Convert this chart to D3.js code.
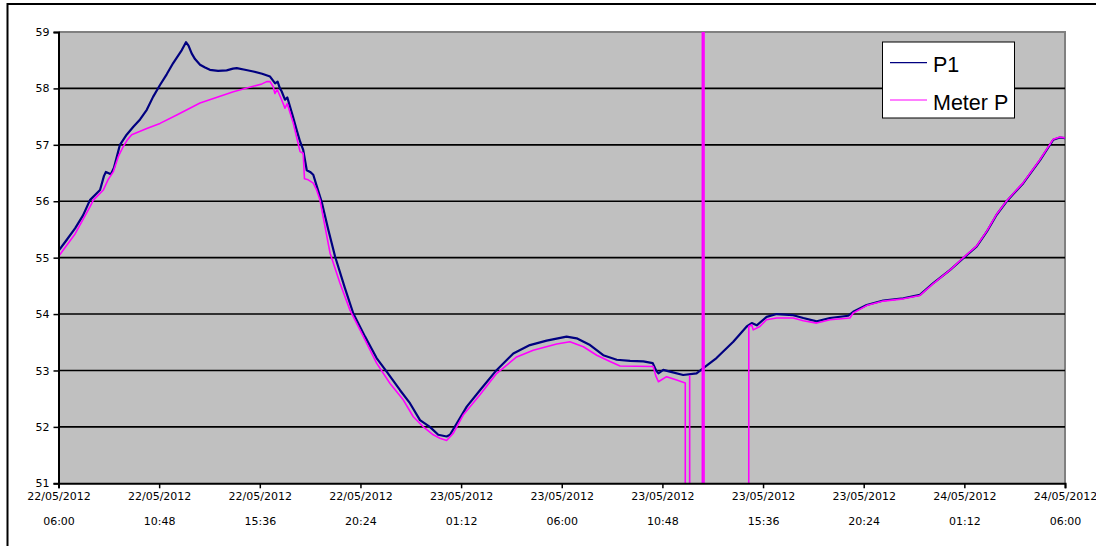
<!DOCTYPE html>
<html>
<head>
<meta charset="utf-8">
<script src="https://cdn.jsdelivr.net/npm/d3@7"></script>
<style>
  html, body { margin: 0; padding: 0; background: #ffffff; }
  svg { display: block; }
</style>
</head>
<body>
<svg id="chart" width="1096" height="546"></svg>
<script>
// ---------- data (hours after 22/05/2012 06:00, value) ----------
const startTime = Date.UTC(2012, 4, 22, 6, 0);
const endTime = Date.UTC(2012, 4, 24, 6, 0);

const seriesNames = ["P1", "Meter P"];

const p1Hours = [0, 0.36, 0.79, 1.17, 1.50, 1.98, 2.17, 2.26, 2.50, 2.65, 2.79, 2.93, 3.25, 3.57, 3.89, 4.21, 4.51, 4.84, 5.16, 5.47, 5.88, 6.08, 6.20, 6.35, 6.51, 6.75, 6.99, 7.22, 7.61, 8.02, 8.32, 8.50, 8.89, 9.29, 9.71, 10.09, 10.33, 10.45, 10.56, 10.64, 10.80, 10.91, 11.04, 11.18, 11.36, 11.52, 11.67, 11.84, 12.00, 12.15, 12.33, 12.55, 12.87, 13.19, 13.66, 14.06, 14.62, 15.17, 15.65, 16.29, 16.76, 17.24, 17.71, 18.11, 18.51, 18.67, 18.99, 19.47, 20.10, 20.90, 21.69, 22.48, 23.28, 24.23, 24.71, 25.35, 25.98, 26.62, 27.26, 27.89, 28.34, 28.50, 28.61, 28.84, 29.16, 29.79, 30.43, 30.75, 31.38, 32.18, 32.82, 33.06, 33.30, 33.77, 34.25, 35.04, 35.52, 36.16, 36.79, 37.66, 37.90, 38.54, 39.33, 40.29, 41.08, 41.72, 42.51, 43.15, 43.79, 44.27, 44.74, 45.22, 46.01, 46.81, 47.44, 47.76, 48.00];
const p1Values = [55.12, 55.30, 55.52, 55.75, 56.02, 56.20, 56.45, 56.52, 56.48, 56.60, 56.80, 57.00, 57.18, 57.32, 57.45, 57.62, 57.85, 58.06, 58.25, 58.45, 58.68, 58.82, 58.76, 58.62, 58.52, 58.42, 58.37, 58.33, 58.31, 58.32, 58.35, 58.36, 58.33, 58.30, 58.26, 58.21, 58.09, 58.12, 58.00, 57.95, 57.80, 57.84, 57.68, 57.50, 57.26, 57.06, 56.91, 56.55, 56.52, 56.47, 56.25, 55.99, 55.49, 55.02, 54.46, 54.01, 53.60, 53.22, 52.98, 52.65, 52.42, 52.12, 52.00, 51.86, 51.83, 51.86, 52.06, 52.36, 52.65, 53.01, 53.30, 53.45, 53.53, 53.60, 53.57, 53.45, 53.27, 53.19, 53.17, 53.16, 53.13, 53.00, 52.95, 53.01, 52.98, 52.92, 52.95, 53.04, 53.22, 53.51, 53.78, 53.84, 53.80, 53.95, 54.00, 53.98, 53.93, 53.87, 53.93, 53.97, 54.04, 54.16, 54.24, 54.28, 54.34, 54.55, 54.78, 54.99, 55.20, 55.46, 55.76, 56.00, 56.32, 56.73, 57.09, 57.13, 57.12];

// Meter P: dropouts read as 0 and one spike far above the axis range
const meterHours = [0, 0.79, 1.50, 1.66, 2.14, 2.36, 2.61, 2.85, 3.09, 3.27, 3.49, 4.21, 4.84, 5.64, 6.75, 8.34, 9.70, 9.93, 10.09, 10.24, 10.32, 10.43, 10.64, 10.80, 10.91, 11.20, 11.52, 11.67, 11.73, 11.91, 12.15, 12.31, 12.47, 12.95, 13.42, 13.90, 14.54, 15.17, 15.81, 16.44, 16.92, 17.40, 17.87, 18.19, 18.51, 18.83, 19.30, 20.10, 20.90, 21.85, 22.64, 23.76, 24.39, 25.03, 25.67, 26.30, 26.78, 28.36, 28.49, 28.61, 29.00, 29.48, 29.89, 29.92, 30.08, 30.10, 30.12, 30.70, 30.71, 30.78, 30.79, 32.90, 32.92, 33.06, 33.13, 33.45, 33.76, 34.25, 35.04, 35.52, 36.16, 36.79, 37.74, 37.90, 38.54, 39.33, 40.29, 41.08, 41.72, 42.51, 43.15, 43.79, 44.27, 44.74, 45.22, 46.01, 46.81, 47.44, 47.76, 48.00];
const meterValues = [55.02, 55.42, 55.90, 56.02, 56.20, 56.38, 56.52, 56.79, 56.97, 57.08, 57.18, 57.29, 57.38, 57.53, 57.74, 57.94, 58.08, 58.12, 58.12, 58.03, 57.91, 57.98, 57.80, 57.65, 57.73, 57.38, 56.88, 56.85, 56.40, 56.38, 56.32, 56.20, 56.02, 55.08, 54.55, 54.07, 53.60, 53.13, 52.77, 52.48, 52.18, 52.00, 51.86, 51.80, 51.76, 51.89, 52.21, 52.57, 52.95, 53.24, 53.36, 53.47, 53.51, 53.42, 53.27, 53.16, 53.08, 53.07, 52.90, 52.80, 52.89, 52.83, 52.78, 0, 0, 52.90, 0, 0, 100, 100, 0, 0, 53.78, 53.81, 53.72, 53.78, 53.90, 53.93, 53.93, 53.88, 53.84, 53.90, 53.93, 54.02, 54.15, 54.23, 54.27, 54.33, 54.54, 54.78, 55.00, 55.21, 55.47, 55.77, 56.01, 56.33, 56.74, 57.10, 57.14, 57.12];

const yTicks = [51, 52, 53, 54, 55, 56, 57, 58, 59];
const xTickStepMinutes = 288; // 4.8 hours between labels

// ---------- layout ----------
const svg = d3.select("#chart");
const plot = { left: 58.5, top: 32, right: 1065, bottom: 483.3 };

const x = d3.scaleUtc().domain([new Date(startTime), new Date(endTime)]).range([plot.left, plot.right]);
const y = d3.scaleLinear().domain([51, 59]).range([plot.bottom, plot.top]);

const toDate = h => new Date(startTime + h * 3600e3);
const p1 = p1Hours.map((h, i) => ({ t: toDate(h), v: p1Values[i] }));
const meter = meterHours.map((h, i) => ({ t: toDate(h), v: meterValues[i] }));

// outer frame
svg.append("rect")
  .attr("x", 7.5).attr("y", 4).attr("width", 1200).attr("height", 700)
  .attr("fill", "none").attr("stroke", "#000").attr("stroke-width", 2);

// plot background
svg.append("rect")
  .attr("x", plot.left).attr("y", plot.top)
  .attr("width", plot.right - plot.left).attr("height", plot.bottom - plot.top)
  .attr("fill", "#c0c0c0");

// top and right border (gray)
svg.append("path")
  .attr("d", `M${plot.left},${plot.top}H${plot.right}V${plot.bottom}`)
  .attr("fill", "none").attr("stroke", "#808080").attr("stroke-width", 2);

// horizontal gridlines
svg.append("g").selectAll("line")
  .data(yTicks.filter(d => d > 51 && d < 59))
  .join("line")
  .attr("x1", plot.left).attr("x2", plot.right)
  .attr("y1", d => y(d)).attr("y2", d => y(d))
  .attr("stroke", "#000").attr("stroke-width", 1.6);

// series (clipped to plot)
svg.append("clipPath").attr("id", "clip")
  .append("rect")
  .attr("x", plot.left).attr("y", plot.top)
  .attr("width", plot.right - plot.left).attr("height", plot.bottom - plot.top);

const line = d3.line().x(d => x(d.t)).y(d => y(d.v));
const g = svg.append("g").attr("clip-path", "url(#clip)");
g.append("path").datum(p1).attr("d", line)
  .attr("fill", "none").attr("stroke", "#000080").attr("stroke-width", 2.2).attr("stroke-linejoin", "round");
g.append("path").datum(meter).attr("d", line)
  .attr("fill", "none").attr("stroke", "#ff00ff").attr("stroke-width", 1.6).attr("stroke-linejoin", "round");

// axes
const xTicks = d3.range(0, 11).map(i => new Date(startTime + i * xTickStepMinutes * 60e3));
const fmtDate = d3.utcFormat("%d/%m/%Y");
const fmtTime = d3.utcFormat("%H:%M");

const yAxis = svg.append("g")
  .attr("transform", `translate(${plot.left},0)`)
  .call(d3.axisLeft(y).tickValues(yTicks).tickSize(5).tickPadding(4).tickFormat(d3.format("d")));
yAxis.select(".domain").attr("stroke", "#000").attr("stroke-width", 2);
yAxis.selectAll(".tick line").attr("stroke", "#000").attr("stroke-width", 1.5);
yAxis.selectAll(".tick text")
  .attr("font-family", "'DejaVu Sans', Verdana, sans-serif").attr("font-size", 11).attr("fill", "#000");

const xAxis = svg.append("g")
  .attr("transform", `translate(0,${plot.bottom})`)
  .call(d3.axisBottom(x).tickValues(xTicks).tickSize(5).tickFormat(""));
xAxis.select(".domain").attr("stroke", "#000").attr("stroke-width", 2);
xAxis.selectAll(".tick line").attr("stroke", "#000").attr("stroke-width", 1.5);
xAxis.selectAll(".tick").each(function(d) {
  const t = d3.select(this).append("text")
    .attr("text-anchor", "middle")
    .attr("font-family", "'DejaVu Sans', Verdana, sans-serif")
    .attr("font-size", 11).attr("fill", "#000");
  t.append("tspan").attr("x", 0).attr("y", 17).text(fmtDate(d));
  t.append("tspan").attr("x", 0).attr("y", 41.5).text(fmtTime(d));
});

// legend
const legend = svg.append("g");
legend.append("rect")
  .attr("x", 882.5).attr("y", 42).attr("width", 132).attr("height", 76)
  .attr("fill", "#fff").attr("stroke", "#000").attr("stroke-width", 1);
const legendColors = ["#000080", "#ff00ff"];
const legendY = [62.7, 100];
seriesNames.forEach((name, i) => {
  legend.append("line")
    .attr("x1", 890).attr("x2", 927)
    .attr("y1", legendY[i]).attr("y2", legendY[i])
    .attr("stroke", legendColors[i]).attr("stroke-width", 1.2);
  legend.append("text")
    .attr("x", 933).attr("y", legendY[i] + 9.5)
    .attr("font-family", "'Liberation Sans', Arial, sans-serif")
    .attr("font-size", 21.5).attr("fill", "#000")
    .text(name);
});
</script>
</body>
</html>
